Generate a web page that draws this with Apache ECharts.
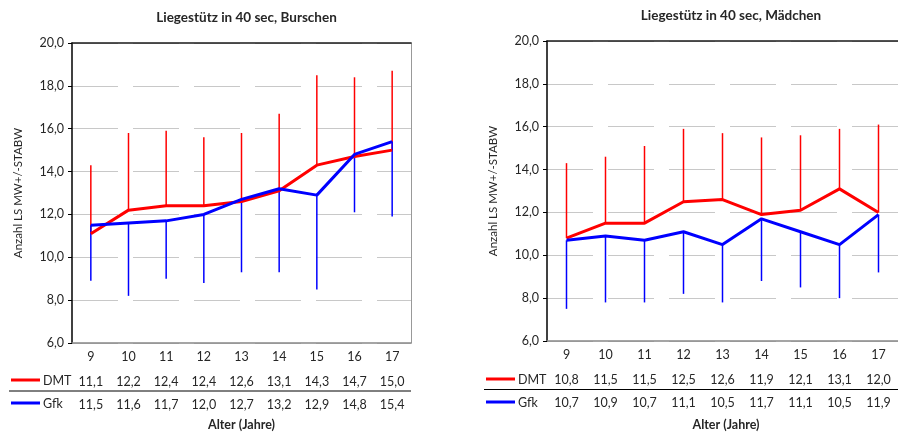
<!DOCTYPE html>
<html>
<head>
<meta charset="utf-8">
<script src="https://cdn.jsdelivr.net/npm/echarts@6/dist/echarts.min.js"></script>
<style>
  html, body { margin: 0; padding: 0; background: #fff; }
  #chart { width: 898px; height: 436px; }
</style>
</head>
<body>
<div id="chart"></div>
<script>
// Age groups on the x axis
const ages = ['9', '10', '11', '12', '13', '14', '15', '16', '17'];

// Boys: means and the ends of the +/- standard deviation bars
const boysDMT = [11.1, 12.2, 12.4, 12.4, 12.6, 13.1, 14.3, 14.7, 15.0];
const boysGfk = [11.5, 11.6, 11.7, 12.0, 12.7, 13.2, 12.9, 14.8, 15.4];
const boysDMTUpper = [14.3, 15.8, 15.9, 15.6, 15.8, 16.7, 18.5, 18.4, 18.7];
const boysGfkLower = [8.9, 8.2, 9.0, 8.8, 9.3, 9.3, 8.5, 12.1, 11.9];

// Girls: means and the ends of the +/- standard deviation bars
const girlsDMT = [10.8, 11.5, 11.5, 12.5, 12.6, 11.9, 12.1, 13.1, 12.0];
const girlsGfk = [10.7, 10.9, 10.7, 11.1, 10.5, 11.7, 11.1, 10.5, 11.9];
const girlsDMTUpper = [14.3, 14.6, 15.1, 15.9, 15.7, 15.5, 15.6, 15.9, 16.1];
const girlsGfkLower = [7.5, 7.8, 7.8, 8.2, 7.8, 8.8, 8.5, 8.0, 9.2];

// Value axis range
const yMin = 6, yMax = 20, yStep = 2;

const FONT = 'Lato';
const TEXT = '#262626';
const RED = '#ff0000';
const BLUE = '#0000ff';

const fmt = v => Number(v).toFixed(1).replace('.', ',');

const chart = echarts.init(document.getElementById('chart'), null, { renderer: 'canvas' });

const grids = [
  { left: 72, top: 43, width: 339, height: 300 },
  { left: 547, top: 41, width: 357, height: 300 }
];

function xAxesFor(g, dmt, gfk) {
  const base = { gridIndex: g, type: 'category', data: ages, boundaryGap: true };
  const tableRow = (vals, offset) => ({
    gridIndex: g, type: 'category', data: vals.map(fmt), position: 'bottom', offset: offset,
    axisLine: { show: false }, axisTick: { show: false },
    axisLabel: { margin: 6, fontFamily: FONT, fontSize: 12.5, color: TEXT, interval: 0 }
  });
  return [
    Object.assign({}, base, {
      position: 'bottom',
      axisLine: { show: true, onZero: false, lineStyle: { color: '#888888', width: 1.5 } },
      axisTick: { show: false },
      axisLabel: { margin: 7, fontFamily: FONT, fontSize: 12.5, color: TEXT, interval: 0 },
      splitLine: { show: false }
    }),
    tableRow(dmt, 26),
    tableRow(gfk, 49),
    Object.assign({}, base, {
      position: 'top',
      axisLine: { show: true, onZero: false, lineStyle: { color: '#1a1a1a', width: 1.5 } },
      axisTick: { show: false }, axisLabel: { show: false }, splitLine: { show: false }
    })
  ];
}

function yAxesFor(g) {
  return [
    {
      gridIndex: g, type: 'value', min: yMin, max: yMax, interval: yStep, position: 'left',
      name: 'Anzahl LS MW+/-STABW', nameLocation: 'middle', nameGap: 48, nameRotate: 90,
      nameTextStyle: { fontFamily: FONT, fontSize: 11.5, color: TEXT },
      axisLine: { show: true, lineStyle: { color: '#000000', width: 1.5 } },
      axisTick: { show: true, length: 4, lineStyle: { color: '#000000', width: 1 } },
      axisLabel: { margin: 8, fontFamily: FONT, fontSize: 12.5, color: TEXT, formatter: fmt },
      splitLine: { show: true, lineStyle: { color: '#c8c8c8', width: 1, type: [46, 15] } }
    },
    {
      gridIndex: g, type: 'value', min: yMin, max: yMax, interval: yStep, position: 'right',
      axisLine: { show: true, lineStyle: { color: '#999999', width: 1 } },
      axisTick: { show: false }, axisLabel: { show: false }, splitLine: { show: false }
    }
  ];
}

function meanLine(name, xi, yi, values, color) {
  return {
    name: name, type: 'line', xAxisIndex: xi, yAxisIndex: yi, data: values,
    symbol: 'none', lineStyle: { color: color, width: 3 }, z: 3, silent: true
  };
}

function deviationBars(xi, yi, means, ends, color) {
  return {
    type: 'custom', xAxisIndex: xi, yAxisIndex: yi, silent: true, z: 2,
    data: means.map((m, i) => [i, m, ends[i]]),
    encode: { x: 0, y: [1, 2] },
    renderItem: (params, api) => {
      const a = api.coord([api.value(0), api.value(1)]);
      const b = api.coord([api.value(0), api.value(2)]);
      return {
        type: 'line',
        shape: { x1: a[0], y1: a[1], x2: b[0], y2: b[1] },
        style: { stroke: color, lineWidth: 1.5 }
      };
    }
  };
}

// Legend keys, row separator and x-axis caption under each plot
function tableGraphics(keyX, sepX1, sepX2, rowDMT, rowGfk, sepY, centerX) {
  return [
    { type: 'line', shape: { x1: keyX, y1: rowDMT, x2: keyX + 29, y2: rowDMT }, style: { stroke: RED, lineWidth: 3 } },
    { type: 'text', x: keyX + 32, y: rowDMT + 1, style: { text: 'DMT', fontFamily: FONT, fontSize: 12.5, fill: TEXT, verticalAlign: 'middle' } },
    { type: 'line', shape: { x1: keyX, y1: rowGfk, x2: keyX + 29, y2: rowGfk }, style: { stroke: BLUE, lineWidth: 3 } },
    { type: 'text', x: keyX + 32, y: rowGfk + 1, style: { text: 'Gfk', fontFamily: FONT, fontSize: 12.5, fill: TEXT, verticalAlign: 'middle' } },
    { type: 'line', shape: { x1: sepX1, y1: sepY, x2: sepX2, y2: sepY }, style: { stroke: '#000000', lineWidth: 1 } },
    { type: 'text', x: centerX, y: 425, style: { text: 'Alter (Jahre)', fontFamily: FONT, fontSize: 12.5, fontWeight: 'bold', fill: TEXT, align: 'center', verticalAlign: 'middle' } }
  ];
}

chart.setOption({
  animation: false,
  backgroundColor: '#ffffff',
  title: [
    { text: 'Liegestütz in 40 sec, Burschen', left: 241.5, top: 6, textAlign: 'center',
      textStyle: { fontFamily: FONT, fontSize: 13.5, fontWeight: 'bold', color: TEXT } },
    { text: 'Liegestütz in 40 sec, Mädchen', left: 726, top: 4, textAlign: 'center',
      textStyle: { fontFamily: FONT, fontSize: 13.5, fontWeight: 'bold', color: TEXT } }
  ],
  grid: grids,
  xAxis: [].concat(xAxesFor(0, boysDMT, boysGfk), xAxesFor(1, girlsDMT, girlsGfk)),
  yAxis: [].concat(yAxesFor(0), yAxesFor(1)),
  series: [
    deviationBars(0, 0, boysDMT, boysDMTUpper, RED),
    deviationBars(0, 0, boysGfk, boysGfkLower, BLUE),
    meanLine('DMT', 0, 0, boysDMT, RED),
    meanLine('Gfk', 0, 0, boysGfk, BLUE),
    deviationBars(4, 2, girlsDMT, girlsDMTUpper, RED),
    deviationBars(4, 2, girlsGfk, girlsGfkLower, BLUE),
    meanLine('DMT', 4, 2, girlsDMT, RED),
    meanLine('Gfk', 4, 2, girlsGfk, BLUE)
  ],
  graphic: [].concat(
    tableGraphics(11, 9, 411, 380, 403, 391, 241.5),
    tableGraphics(486, 484, 898, 379, 402, 389.5, 726)
  )
});
</script>
</body>
</html>
